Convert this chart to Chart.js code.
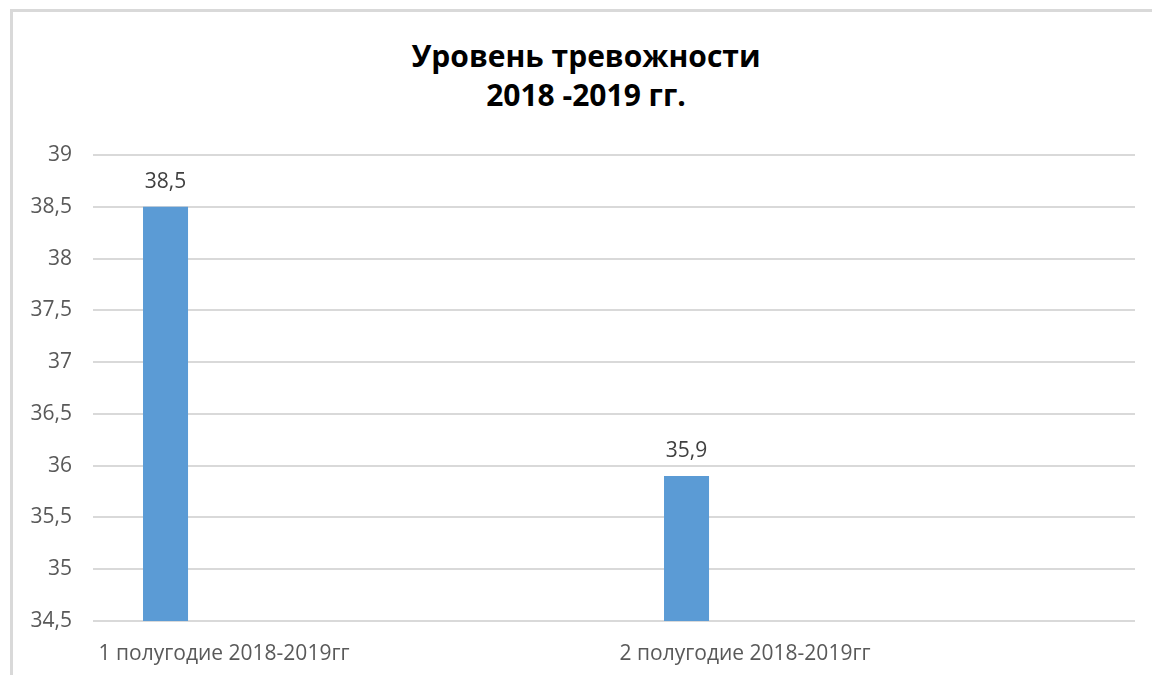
<!DOCTYPE html>
<html>
<head>
<meta charset="utf-8">
<script src="https://cdn.jsdelivr.net/npm/chart.js@4.4.1/dist/chart.umd.min.js"></script>
<style>
  html, body { margin: 0; padding: 0; background: #fff; }
  #wrap { position: relative; width: 1152px; height: 675px; overflow: hidden; }
  #frame {
    position: absolute; left: 10px; top: 9px; width: 1200px; height: 700px;
    border-left: 3px solid #d9d9d9; border-top: 3px solid #d9d9d9;
  }
  #title {
    position: absolute; left: 0; top: 36px; width: 1172px;
    text-align: center; font: bold 30px/39px 'Open Sans', sans-serif; color: #000;
  }
  canvas { position: absolute; left: 0; top: 0; }
</style>
</head>
<body>
<div id="wrap">
  <div id="frame"></div>
  <div id="title"></div>
  <canvas id="chart" width="1152" height="675"></canvas>
</div>
<script>
// chart data
var categories = ['1 полугодие 2018-2019гг', '2 полугодие 2018-2019гг'];
var values = [38.5, 35.9];
var titleLines = ['Уровень тревожности', '2018 -2019 гг.'];
var yMin = 34.5;
var yMax = 39;
var yStep = 0.5;

var FONT = "'Open Sans', sans-serif";

function toComma(v) {
  return String(Math.round(v * 10) / 10).replace('.', ',');
}

// title sits a bit right of the canvas centre, as in the original
document.getElementById('title').innerHTML = titleLines.join('<br>');

// Excel chart had more (empty) series, so the bar sits at the left of each category
var datasets = [{
  data: values,
  backgroundColor: '#5b9bd5',
  barPercentage: 0.479,
  categoryPercentage: 0.902
}];
for (var i = 0; i < 4; i++) {
  datasets.push({
    data: categories.map(function () { return null; }),
    backgroundColor: '#5b9bd5',
    barPercentage: 0.479,
    categoryPercentage: 0.902
  });
}

var valueLabels = {
  id: 'valueLabels',
  afterDatasetsDraw: function (chart) {
    var ctx = chart.ctx;
    var meta = chart.getDatasetMeta(0);
    ctx.save();
    ctx.font = '21px ' + FONT;
    ctx.fillStyle = '#404040';
    ctx.textAlign = 'center';
    ctx.textBaseline = 'middle';
    meta.data.forEach(function (bar, idx) {
      ctx.fillText(toComma(values[idx]), bar.x, bar.y - 25);
    });
    ctx.restore();
  }
};

var ctx = document.getElementById('chart').getContext('2d');
new Chart(ctx, {
  type: 'bar',
  data: { labels: categories, datasets: datasets },
  plugins: [valueLabels],
  options: {
    responsive: false,
    animation: false,
    layout: { padding: { top: 155, right: 17, bottom: 8, left: 0 } },
    plugins: {
      legend: { display: false },
      tooltip: { enabled: false },
      title: { display: false }
    },
    scales: {
      x: {
        afterFit: function (scale) { scale.height = 46; },
        grid: { display: false, drawTicks: false },
        border: { display: false },
        ticks: {
          align: 'end',
          labelOffset: -4,
          color: '#595959',
          padding: 20,
          font: { family: FONT, size: 21 },
          maxRotation: 0
        }
      },
      y: {
        min: yMin,
        max: yMax,
        afterFit: function (scale) { scale.width = 93; },
        grid: { color: '#d9d9d9', lineWidth: 2, drawTicks: false },
        border: { display: false },
        ticks: {
          stepSize: yStep,
          color: '#595959',
          padding: 21,
          font: { family: FONT, size: 21 },
          callback: function (value) { return toComma(value); }
        }
      }
    }
  }
});
</script>
</body>
</html>
